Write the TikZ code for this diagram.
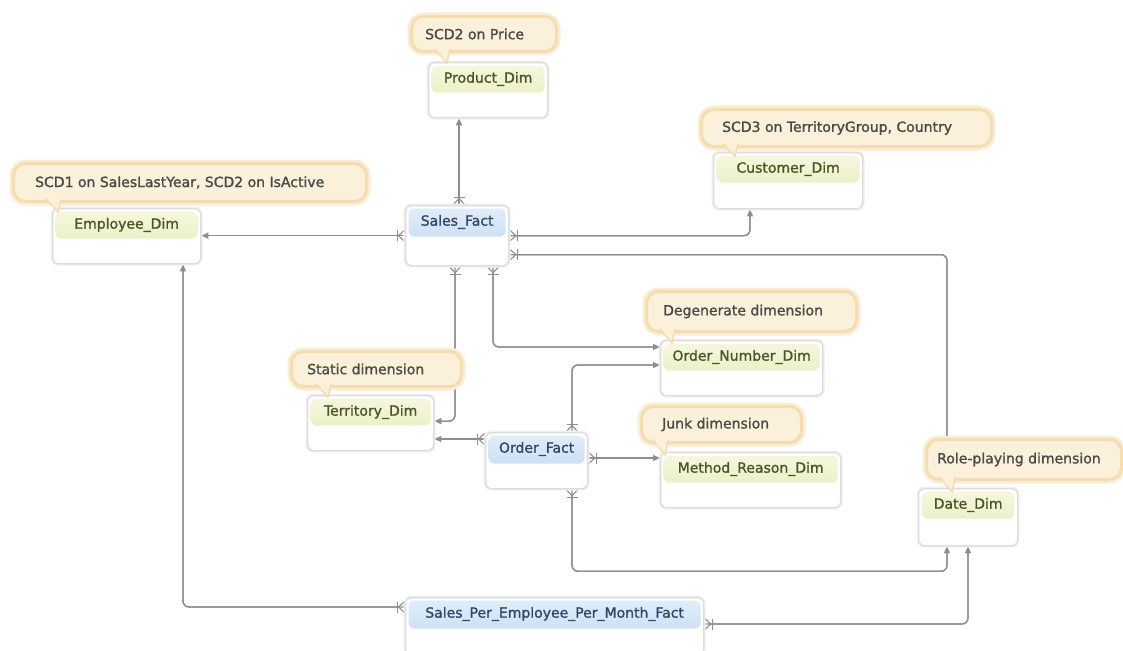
\documentclass[tikz,border=0pt]{standalone}
\usepackage{fontspec}
\setmainfont{DejaVu Sans}[BoldFont={DejaVu Sans}, BoldFeatures={FakeBold=1.3}]
\usetikzlibrary{arrows.meta,calc}
\definecolor{lc}{HTML}{8E8E8E}
\definecolor{dimtop}{HTML}{F6F8E0}
\definecolor{dimbot}{HTML}{E2EAB4}
\definecolor{facttop}{HTML}{E2EEFA}
\definecolor{factbot}{HTML}{BCD5EF}
\definecolor{tblborder}{HTML}{DCDCDC}
\definecolor{dimtxt}{HTML}{4B5628}
\definecolor{facttxt}{HTML}{34466A}
\definecolor{callfill}{HTML}{FBF0DA}
\definecolor{callglow}{HTML}{F5DDB2}
\definecolor{calltxt}{HTML}{4A4A48}
\pgfdeclarelayer{bg}
\pgfsetlayers{bg,main}
\tikzset{
  crowfoot/.tip={Bar[width=11pt,line width=1.1pt] Straight Barb[reversed,length=6pt,width=11pt,line width=1.1pt]},
  dimarrow/.tip={Triangle[length=7pt,width=6pt]},
  rel/.style={draw=lc, line width=1.3pt, rounded corners=6pt, {crowfoot}-{dimarrow},
    preaction={draw=lc, line width=1.3pt, -}},
  tbl/.style={draw=tblborder, line width=1.3pt, fill=white, rounded corners=6pt, inner sep=0pt,
    preaction={draw=black!6, line width=4pt}},
  dimhdr/.style={path picture={\shade[top color=dimtop,bottom color=dimbot]
      ([xshift=3pt,yshift=-3pt]path picture bounding box.north west) rectangle
      ([xshift=-3pt,yshift=-30pt]path picture bounding box.north east);}},
  facthdr/.style={path picture={\shade[top color=facttop,bottom color=factbot]
      ([xshift=3pt,yshift=-3pt]path picture bounding box.north west) rectangle
      ([xshift=-3pt,yshift=-31pt]path picture bounding box.north east);}},
  dimtext/.style={text=dimtxt, inner sep=0pt, font=\fontsize{14}{16}\selectfont\bfseries},
  facttext/.style={text=facttxt, inner sep=0pt, font=\fontsize{14}{16}\selectfont\bfseries},
  callbox/.style={draw=callglow, line width=3pt, fill=callfill, rounded corners=12pt, inner sep=0pt,
    preaction={draw=callglow!55!white, line width=8pt}},
  calltail/.style={fill=callfill, draw=callglow, line width=1.5pt},
  calltext/.style={text=calltxt, inner sep=0pt, font=\fontsize{14}{16}\selectfont\bfseries},
}
\newcommand\tablebox[7]{%
  \node[tbl, #6hdr, minimum width=#4pt, minimum height=#5pt, anchor=north west] (#1) at (#2,#3) {};
  \node[#6text] (#1-t) at ([yshift=-17pt]#1.north) {#7};
}
\newcommand\callout[9]{%
  \node[callbox, minimum width=#4pt, minimum height=#5pt, anchor=north west] (#1) at (#2,#3) {};
  \path[calltail] ({#7-12},{#3+#5-1}) -- (#7,#8) -- ({#7+3},{#3+#5-1});
  \node[calltext, anchor=west] (#1-t) at ([xshift=#6pt]#1.west) {#9};
}
\begin{document}
\begin{tikzpicture}[x=1pt, y=-1pt, font=\fontsize{14}{16}\selectfont]
\useasboundingbox (0,0) rectangle (1123,650);
% tables
\tablebox{pd}{428}{62}{119}{55}{dim}{Product\_Dim}
\tablebox{cd}{713}{152}{149}{56}{dim}{Customer\_Dim}
\tablebox{ed}{52}{208}{148}{55}{dim}{Employee\_Dim}
\tablebox{sf}{405}{205}{103}{60}{fact}{Sales\_Fact}
\tablebox{on}{660}{340}{162}{55}{dim}{Order\_Number\_Dim}
\tablebox{td}{307}{395}{126}{55}{dim}{Territory\_Dim}
\tablebox{of}{485}{432}{102}{56}{fact}{Order\_Fact}
\tablebox{mr}{660}{452}{180}{55}{dim}{Method\_Reason\_Dim}
\tablebox{dd}{918}{488}{99}{57}{dim}{Date\_Dim}
\tablebox{spe}{405}{597}{298}{58}{fact}{Sales\_Per\_Employee\_Per\_Month\_Fact}
% helper coordinates
\coordinate (ofL) at ([yshift=-7pt]of.north west);
\coordinate (ofR) at ([yshift=-26pt]of.north east);
% connectors
\begin{pgfonlayer}{bg}
\fill[white] (0,0) rectangle (1123,650);
\draw[rel] ([xshift=54pt]sf.north west) -- ([xshift=31pt]pd.south west);
\draw[rel] (sf.west) -- (sf.west -| ed.east);
\draw[rel] (sf.east) -| ([xshift=37pt]cd.south west);
\draw[rel] ([yshift=-19pt]sf.east) -| ([xshift=29pt]dd.north west);
\draw[rel] ([xshift=50pt]sf.south west) |- ([yshift=2pt]td.east);
\draw[rel] ([xshift=88pt]sf.south west) |- ([yshift=-7pt]on.north west);
\draw[rel] ([xshift=87pt]of.north west) |- ([yshift=-25pt]on.north west);
\draw[rel] (ofL) -- (ofL -| td.east);
\draw[rel] (ofR) -- (ofR -| mr.west);
\draw[rel] ([xshift=87pt]of.south west) -- ++(0,82) -| ([xshift=29pt]dd.south west);
\draw[rel] ([yshift=-10pt]spe.north west) -| ([xshift=131pt]ed.south west);
\draw[rel] ([yshift=-27pt]spe.north east) -| ([xshift=50pt]dd.south west);
\end{pgfonlayer}
% callouts
\callout{cP}{410}{15}{145}{35}{15}{447}{63}{SCD2 on Price}
\callout{cC}{700}{108}{290}{37}{22}{735}{156}{SCD3 on TerritoryGroup, Country}
\callout{cE}{12}{162}{353}{38}{23}{58}{212}{SCD1 on SalesLastYear, SCD2 on IsActive}
\callout{cO}{645}{290}{210}{40}{18}{672}{343}{Degenerate dimension}
\callout{cT}{290}{350}{170}{35}{17}{328}{397}{Static dimension}
\callout{cJ}{640}{405}{160}{36}{22}{665}{455}{Junk dimension}
\callout{cR}{925}{438}{195}{40}{12}{952}{492}{Role-playing dimension}
\end{tikzpicture}
\end{document}
